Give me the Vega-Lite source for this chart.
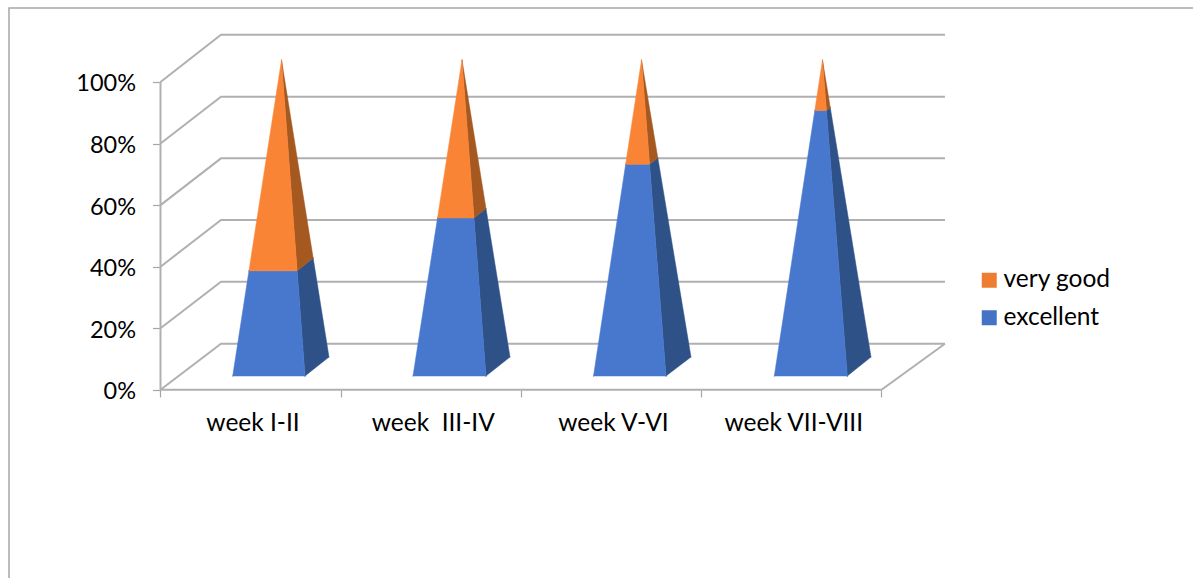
{
"$schema":"https://vega.github.io/schema/vega-lite/v6.json",
"width":1184,"height":570,
"padding":{"left":9,"top":8,"right":0,"bottom":0},
"autosize":{"type":"none"},
"background":"white",
"config":{"font":"Lato","view":{"stroke":null}},
"datasets":{
"frame":[{"line":"frame","i":0,"x":-0.8405,"y":-61.14},{"line":"frame","i":1,"x":-0.8405,"y":124.04},{"line":"frame","i":2,"x":5.7282,"y":124.04}],
"walls":[
{"line":"g0","i":0,"x":0,"y":0},{"line":"g0","i":1,"x":0.3356,"y":14.98},{"line":"g0","i":2,"x":4.352,"y":14.98},
{"line":"g20","i":0,"x":0,"y":20},{"line":"g20","i":1,"x":0.3356,"y":35.09},{"line":"g20","i":2,"x":4.352,"y":35.09},
{"line":"g40","i":0,"x":0,"y":40},{"line":"g40","i":1,"x":0.3356,"y":55.16},{"line":"g40","i":2,"x":4.352,"y":55.16},
{"line":"g60","i":0,"x":0,"y":60},{"line":"g60","i":1,"x":0.3356,"y":75.2},{"line":"g60","i":2,"x":4.352,"y":75.2},
{"line":"g80","i":0,"x":0,"y":80},{"line":"g80","i":1,"x":0.3356,"y":95.2},{"line":"g80","i":2,"x":4.352,"y":95.2},
{"line":"g100","i":0,"x":0,"y":100},{"line":"g100","i":1,"x":0.3356,"y":115.37},{"line":"g100","i":2,"x":4.352,"y":115.37},
{"line":"yaxis","i":0,"x":0,"y":0},{"line":"yaxis","i":1,"x":0,"y":100},
{"line":"floor","i":0,"x":0,"y":0},{"line":"floor","i":1,"x":4,"y":0},{"line":"floor","i":2,"x":4.352,"y":14.98}
],
"faces":[
{"face":"1ef","series":"excellent","side":"front","i":0,"x":0.4006,"y":4.48},{"face":"1ef","series":"excellent","side":"front","i":1,"x":0.8017,"y":4.48},{"face":"1ef","series":"excellent","side":"front","i":2,"x":0.7582,"y":38.66},{"face":"1ef","series":"excellent","side":"front","i":3,"x":0.4907,"y":38.66},
{"face":"1es","series":"excellent","side":"side","i":0,"x":0.8017,"y":4.48},{"face":"1es","series":"excellent","side":"side","i":1,"x":0.9348,"y":10.66},{"face":"1es","series":"excellent","side":"side","i":2,"x":0.847,"y":42.79},{"face":"1es","series":"excellent","side":"side","i":3,"x":0.7582,"y":38.66},
{"face":"1vf","series":"very good","side":"front","i":0,"x":0.4907,"y":38.66},{"face":"1vf","series":"very good","side":"front","i":1,"x":0.7582,"y":38.66},{"face":"1vf","series":"very good","side":"front","i":2,"x":0.6713,"y":107.15},
{"face":"1vs","series":"very good","side":"side","i":0,"x":0.7582,"y":38.66},{"face":"1vs","series":"very good","side":"side","i":1,"x":0.847,"y":42.79},{"face":"1vs","series":"very good","side":"side","i":2,"x":0.6713,"y":107.15},
{"face":"2ef","series":"excellent","side":"front","i":0,"x":1.4008,"y":4.48},{"face":"2ef","series":"excellent","side":"front","i":1,"x":1.8058,"y":4.48},{"face":"2ef","series":"excellent","side":"front","i":2,"x":1.7393,"y":55.82},{"face":"2ef","series":"excellent","side":"front","i":3,"x":1.5368,"y":55.82},
{"face":"2es","series":"excellent","side":"side","i":0,"x":1.8058,"y":4.48},{"face":"2es","series":"excellent","side":"side","i":1,"x":1.939,"y":10.66},{"face":"2es","series":"excellent","side":"side","i":2,"x":1.8058,"y":58.9},{"face":"2es","series":"excellent","side":"side","i":3,"x":1.7393,"y":55.82},
{"face":"2vf","series":"very good","side":"front","i":0,"x":1.5368,"y":55.82},{"face":"2vf","series":"very good","side":"front","i":1,"x":1.7393,"y":55.82},{"face":"2vf","series":"very good","side":"front","i":2,"x":1.6727,"y":107.15},
{"face":"2vs","series":"very good","side":"side","i":0,"x":1.7393,"y":55.82},{"face":"2vs","series":"very good","side":"side","i":1,"x":1.8058,"y":58.9},{"face":"2vs","series":"very good","side":"side","i":2,"x":1.6727,"y":107.15},
{"face":"3ef","series":"excellent","side":"front","i":0,"x":2.4022,"y":4.48},{"face":"3ef","series":"excellent","side":"front","i":1,"x":2.8044,"y":4.48},{"face":"3ef","series":"excellent","side":"front","i":2,"x":2.7134,"y":73.26},{"face":"3ef","series":"excellent","side":"front","i":3,"x":2.5806,"y":73.26},
{"face":"3es","series":"excellent","side":"side","i":0,"x":2.8044,"y":4.48},{"face":"3es","series":"excellent","side":"side","i":1,"x":2.9431,"y":10.66},{"face":"3es","series":"excellent","side":"side","i":2,"x":2.7592,"y":75.31},{"face":"3es","series":"excellent","side":"side","i":3,"x":2.7134,"y":73.26},
{"face":"3vf","series":"very good","side":"front","i":0,"x":2.5806,"y":73.26},{"face":"3vf","series":"very good","side":"front","i":1,"x":2.7134,"y":73.26},{"face":"3vf","series":"very good","side":"front","i":2,"x":2.6685,"y":107.15},
{"face":"3vs","series":"very good","side":"side","i":0,"x":2.7134,"y":73.26},{"face":"3vs","series":"very good","side":"side","i":1,"x":2.7592,"y":75.31},{"face":"3vs","series":"very good","side":"side","i":2,"x":2.6685,"y":107.15},
{"face":"4ef","series":"excellent","side":"front","i":0,"x":3.4053,"y":4.48},{"face":"4ef","series":"excellent","side":"front","i":1,"x":3.8103,"y":4.48},{"face":"4ef","series":"excellent","side":"front","i":2,"x":3.6947,"y":90.71},{"face":"4ef","series":"excellent","side":"front","i":3,"x":3.6299,"y":90.71},
{"face":"4es","series":"excellent","side":"side","i":0,"x":3.8103,"y":4.48},{"face":"4es","series":"excellent","side":"side","i":1,"x":3.9417,"y":10.66},{"face":"4es","series":"excellent","side":"side","i":2,"x":3.7157,"y":91.72},{"face":"4es","series":"excellent","side":"side","i":3,"x":3.6947,"y":90.71},
{"face":"4vf","series":"very good","side":"front","i":0,"x":3.6299,"y":90.71},{"face":"4vf","series":"very good","side":"front","i":1,"x":3.6947,"y":90.71},{"face":"4vf","series":"very good","side":"front","i":2,"x":3.6727,"y":107.15},
{"face":"4vs","series":"very good","side":"side","i":0,"x":3.6947,"y":90.71},{"face":"4vs","series":"very good","side":"side","i":1,"x":3.7157,"y":91.72},{"face":"4vs","series":"very good","side":"side","i":2,"x":3.6727,"y":107.15}
]
},
"encoding":{
"x":{"field":"x","type":"quantitative","scale":{"domain":[-0.8405,5.7282],"nice":false,"zero":false},
 "axis":{"title":null,"orient":"bottom","offset":-188,"domain":false,"grid":false,"values":[0,1,2,3,4],"tickColor":"#A6A6A6","tickSize":7,"tickWidth":1.2,"labelFontSize":24.5,"labelFont":"Lato","labelColor":"#000000","labelPadding":14,"labelOverlap":false,"labelOffset":92,"labelBound":false,"labelFlush":false,
 "labelExpr":"datum.value==0?'week I-II':datum.value==1?'week \u00a0III-IV':datum.value==2?'week V-VI':datum.value==3?'week VII-VIII':''"}},
"y":{"field":"y","type":"quantitative","scale":{"domain":[-61.14,124.04],"nice":false,"zero":false},
 "axis":{"title":null,"orient":"left","offset":-151.5,"domain":false,"grid":false,"values":[0,20,40,60,80,100],"tickColor":"#A6A6A6","tickSize":8,"tickWidth":1.2,"labelFontSize":23.5,"labelFont":"Lato","labelColor":"#000000","labelPadding":17,"labelOffset":2,"labelOverlap":false,"labelExpr":"datum.value+'%'"}},
"order":{"field":"i","type":"quantitative"}
},
"layer":[
{"data":{"name":"frame"},"mark":{"type":"line","stroke":"#A6A6A6","strokeWidth":1.5,"strokeJoin":"miter"},"encoding":{"detail":{"field":"line"}}},
{"data":{"name":"walls"},"mark":{"type":"line","stroke":"#B0B0B0","strokeWidth":2,"strokeJoin":"miter"},"encoding":{"detail":{"field":"line"}}},
{"data":{"name":"faces"},"mark":{"type":"point","filled":true,"size":1,"opacity":1},
 "encoding":{"color":{"field":"series","type":"nominal","scale":{"domain":["very good","excellent"],"range":["#ED7D31","#4472C4"]},
 "legend":{"title":null,"orient":"none","legendX":968,"legendY":260,"symbolType":"square","symbolSize":225,"symbolStrokeWidth":0,"labelFontSize":24.5,"labelFont":"Lato","labelColor":"#000000","labelOffset":2,"rowPadding":12.5,"padding":0}}}},
{"data":{"name":"faces"},"transform":[{"filter":"datum.series=='excellent'&&datum.side=='side'"}],"mark":{"type":"line","interpolate":"linear-closed","fill":"#2E5188","stroke":"#2E5188","strokeWidth":0.5},"encoding":{"detail":{"field":"face"}}},
{"data":{"name":"faces"},"transform":[{"filter":"datum.series=='very good'&&datum.side=='side'"}],"mark":{"type":"line","interpolate":"linear-closed","fill":"#A5581F","stroke":"#A5581F","strokeWidth":0.5},"encoding":{"detail":{"field":"face"}}},
{"data":{"name":"faces"},"transform":[{"filter":"datum.series=='excellent'&&datum.side=='front'"}],"mark":{"type":"line","interpolate":"linear-closed","fill":"#4878CE","stroke":"#4878CE","strokeWidth":0.5},"encoding":{"detail":{"field":"face"}}},
{"data":{"name":"faces"},"transform":[{"filter":"datum.series=='very good'&&datum.side=='front'"}],"mark":{"type":"line","interpolate":"linear-closed","fill":"#FA8436","stroke":"#FA8436","strokeWidth":0.5},"encoding":{"detail":{"field":"face"}}}
]
}
